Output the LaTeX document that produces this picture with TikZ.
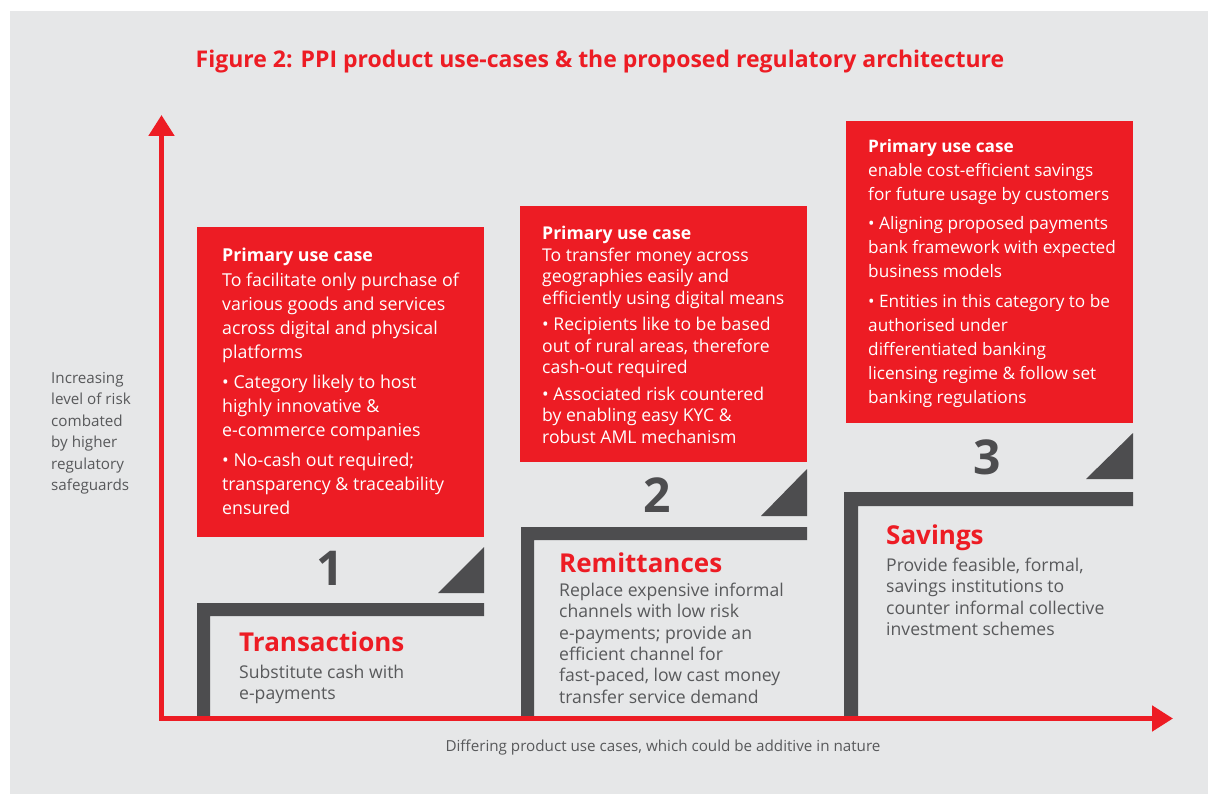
\documentclass[tikz,border=0pt]{standalone}
\usepackage{fontspec}
\setmainfont{Open Sans}
\usetikzlibrary{arrows.meta}
\definecolor{ppired}{HTML}{ED1C24}
\definecolor{stepgray}{HTML}{4D4D4F}
\definecolor{bggray}{HTML}{E6E7E8}
\definecolor{txtgray}{HTML}{58595B}
\tikzset{
  redbox/.style={fill=ppired, draw=none, inner sep=0pt},
  boxtext/.style={anchor=north west, inner sep=0pt, align=left, text=white, font=\fontsize{17.8}{24}\selectfont},
  boxtextsmall/.style={boxtext, font=\fontsize{17.6}{21.5}\selectfont},
  boxtextthree/.style={boxtext, font=\fontsize{17.2}{23.9}\selectfont},
  steptitle/.style={anchor=base west, inner sep=0pt, text=ppired, font=\fontsize{26}{30}\selectfont\bfseries},
  steptext/.style={anchor=north west, inner sep=0pt, align=left, text=txtgray, font=\fontsize{17.6}{21.3}\selectfont},
  stepnum/.style={anchor=base, inner sep=0pt, text=stepgray, font=\fontsize{48}{50}\selectfont\bfseries},
  stepshape/.style={fill=stepgray, draw=none},
  axislabel/.style={inner sep=0pt, text=txtgray, font=\fontsize{15.2}{21.5}\selectfont},
  axis/.style={draw=ppired, line width=5pt, line join=miter},
}
\begin{document}
\begin{tikzpicture}[x=1pt,y=-1pt]
\useasboundingbox (0,0) rectangle (1208,794);
\fill[bggray] (10,11) rectangle (1208,794);

% title
\node[anchor=base, inner sep=0pt, text=ppired, font=\fontsize{23}{26}\selectfont\bfseries] (title) at (600,68) {Figure 2: PPI product use-cases \& the proposed regulatory architecture};

% steps
\fill[stepshape] (197,718) -- (197,603) -- (484,603) -- (484,616) -- (210,616) -- (210,718) -- cycle;
\fill[stepshape] (438,593) -- (484,593) -- (484,547) -- cycle;
\fill[stepshape] (521,718) -- (521,527) -- (807,527) -- (807,540) -- (534,540) -- (534,718) -- cycle;
\fill[stepshape] (761,516) -- (807,516) -- (807,469) -- cycle;
\fill[stepshape] (844,718) -- (844,492) -- (1133,492) -- (1133,506) -- (858,506) -- (858,718) -- cycle;
\fill[stepshape] (1086,479) -- (1133,479) -- (1133,433) -- cycle;

% numbers
\node[stepnum] (n1) at (330,585) {1};
\node[stepnum] (n2) at (657,512) {2};
\node[stepnum] (n3) at (987,474) {3};

% red boxes
\node[redbox, anchor=north west, minimum width=287pt, minimum height=310pt] (box1) at (197,227) {};
\node[redbox, anchor=north west, minimum width=287pt, minimum height=256pt] (box2) at (520,206) {};
\node[redbox, anchor=north west, minimum width=287pt, minimum height=302pt] (box3) at (846,121) {};

\node[boxtext] (t1) at (222,248) {\textbf{Primary use case}\\[1pt]
To facilitate only purchase of\\various goods and services\\across digital and physical\\platforms\\[6pt]
• Category likely to host\\highly innovative \&\\e-commerce companies\\[6pt]
• No-cash out required;\\transparency \& traceability\\ensured};

\node[boxtextsmall] (t2) at (542,226) {\textbf{Primary use case}\\
To transfer money across\\geographies easily and\\efficiently using digital means\\[5pt]
• Recipients like to be based\\out of rural areas, therefore\\cash-out required\\[5pt]
• Associated risk countered\\by enabling easy KYC \&\\robust AML mechanism};

\node[boxtextthree] (t3) at (868,139) {\textbf{Primary use case}\\
enable cost-efficient savings\\for future usage by customers\\[6pt]
• Aligning proposed payments\\bank framework with expected\\business models\\[6pt]
• Entities in this category to be\\authorised under\\differentiated banking\\licensing regime \& follow set\\banking regulations};

% step labels
\node[steptitle] (s1) at (239,651) {Transactions};
\node[steptext] (d1) at (239,665) {Substitute cash with\\e-payments};
\node[steptitle] (s2) at (559,572) {Remittances};
\node[steptext] (d2) at (559,583) {Replace expensive informal\\channels with low risk\\e-payments; provide an\\efficient channel for\\fast-paced, low cast money\\transfer service demand};
\node[steptitle] (s3) at (886,544) {Savings};
\node[steptext] (d3) at (886,558) {Provide feasible, formal,\\savings institutions to\\counter informal collective\\investment schemes};

% axes
\coordinate (O) at (161.5,718.5);
\coordinate (ytop) at (161.5,115);
\coordinate (xend) at (1173,718.5);
\draw[axis, {Triangle[width=25pt,length=21pt]}-{Triangle[width=25pt,length=21pt]}] (ytop) -- (O) -- (xend);

\node[axislabel, anchor=north west, align=left] (ylab) at (51,372) {Increasing\\level of risk\\combated\\by higher\\regulatory\\safeguards};
\node[axislabel, anchor=base] (xlab) at (663,751) {Differing product use cases, which could be additive in nature};
\end{tikzpicture}
\end{document}
